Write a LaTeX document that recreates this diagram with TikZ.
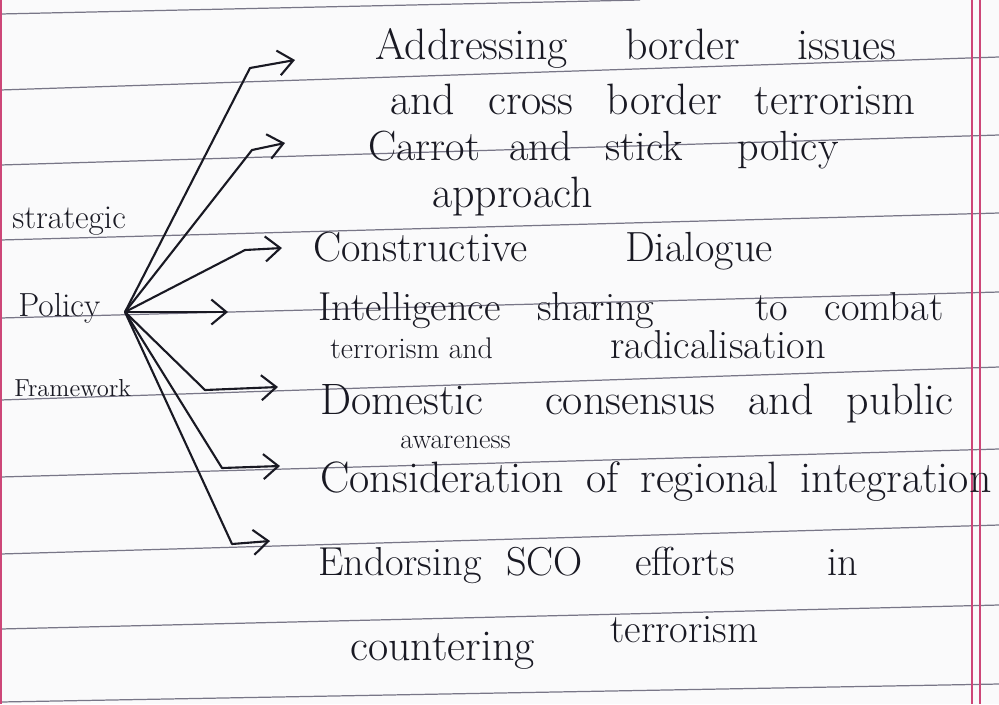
\documentclass[tikz,border=0pt]{standalone}
\usepackage{tikz}
\usetikzlibrary{arrows.meta,positioning}
\definecolor{ink}{RGB}{25,25,35}
\definecolor{rulegrey}{RGB}{120,118,135}
\definecolor{marginpink}{RGB}{205,70,120}
\definecolor{paper}{RGB}{250,250,251}

\begin{document}
\begin{tikzpicture}[x=0.02cm, y=-0.02cm,
    item/.style={anchor=base west, inner sep=0pt, text=ink,
        font=\fontsize{25}{28}\selectfont},
    rootword/.style={anchor=base west, inner sep=0pt, text=ink},
    arr/.style={-{Straight Barb[length=3mm, width=5mm]}, line width=1.2pt,
        ink, line join=round},
    ruled/.style={rulegrey, line width=0.7pt}
]
    % ruled page
    \useasboundingbox (0,0) rectangle (999,704);
    \fill[paper] (0,0) rectangle (999,704);
    \foreach \yl/\yr in {90/57, 165/135, 240/213, 318/292, 400/367,
        477/449, 554/525, 629/605, 702/684}
        \draw[ruled] (0,\yl) -- (999,\yr);
    \draw[ruled] (0,14) -- (640,0);
    \draw[marginpink, line width=0.8pt] (972,0) -- (972,704);
    \draw[marginpink, line width=0.8pt] (980,0) -- (980,704);
    \draw[marginpink, line width=1.2pt] (1,0) -- (1,704);

    % root
    \node[rootword, font=\fontsize{19}{22}\selectfont] (strat) at (12,228) {strategic};
    \node[rootword, font=\fontsize{19}{22}\selectfont] (pol) at (18,316) {Policy};
    \node[rootword, font=\fontsize{14}{16}\selectfont] (frame) at (14,396) {Framework};
    \coordinate (hub) at (125,312);

    % branches
    \node[item] (addr) at (375,59) {Addressing\hspace{1em} border\hspace{1em} issues};
    \node[item] (addrb) at (390,114) {and\hspace{.45em} cross\hspace{.45em} border\hspace{.45em} terrorism};
    \node[item, font=\fontsize{24}{27}\selectfont] (carrot) at (368,160)
        {Carrot\hspace{.4em} and\hspace{.5em} stick\hspace{1em} policy};
    \node[item] (carrotb) at (432,207) {approach};
    \node[item, font=\fontsize{24}{27}\selectfont] (dialog) at (313,261)
        {Constructive\hspace{2em} Dialogue};
    \node[item, font=\fontsize{23}{26}\selectfont] (intel) at (318,320)
        {Intelligence\hspace{.6em} sharing\hspace{2.2em} to\hspace{.6em} combat};
    \node[item, font=\fontsize{23}{26}\selectfont] (intelb) at (330,358)
        {{\fontsize{17}{20}\selectfont terrorism and}\hspace{2.6em} radicalisation};
    \node[item] (domestic) at (320,414)
        {Domestic\hspace{1.1em} consensus\hspace{.45em} and\hspace{.45em} public};
    \node[item, font=\fontsize{16}{18}\selectfont] (domesticb) at (400,448) {awareness};
    \node[item] (region) at (320,492)
        {Consideration\hspace{.2em} of\hspace{.2em} regional\hspace{.2em} integration};
    \node[item, font=\fontsize{23}{26}\selectfont] (sco) at (318,575)
        {Endorsing\hspace{.3em} SCO\hspace{1em} efforts\hspace{2em} in};
    \node[item] (scob) at (350,660) {countering};
    \node[item, font=\fontsize{23}{26}\selectfont] (scoc) at (610,642) {terrorism};

    % arrow ends
    \coordinate (tipAddr) at (295,60);
    \coordinate (tipCarrot) at (285,143);
    \coordinate (tipDialog) at (282,248);
    \coordinate (tipIntel) at (228,312);
    \coordinate (tipDomestic) at (278,387);
    \coordinate (tipRegion) at (280,466);
    \coordinate (tipSco) at (270,541);

    \draw[arr] (hub) -- (250,68) -- (tipAddr);
    \draw[arr] (hub) -- (252,150) -- (tipCarrot);
    \draw[arr] (hub) -- (245,250) -- (tipDialog);
    \draw[arr] (hub) -- (tipIntel);
    \draw[arr] (hub) -- (205,390) -- (tipDomestic);
    \draw[arr] (hub) -- (222,468) -- (tipRegion);
    \draw[arr] (hub) -- (232,544) -- (tipSco);
\end{tikzpicture}
\end{document}
